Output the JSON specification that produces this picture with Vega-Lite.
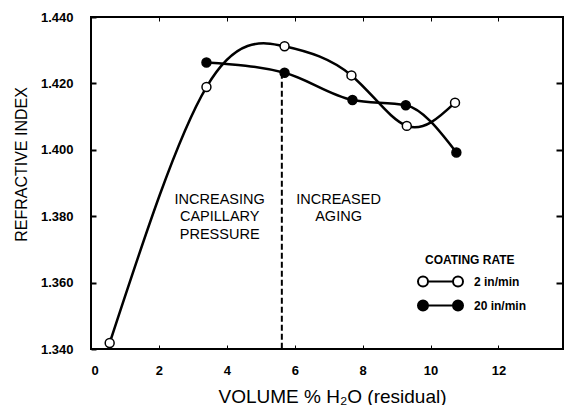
{
  "$schema": "https://vega.github.io/schema/vega-lite/v6.json",
  "width": 472,
  "height": 332,
  "autosize": "none",
  "padding": {"left": 91, "top": 17, "right": 5, "bottom": 56},
  "background": "white",
  "config": {
    "font": "Liberation Sans",
    "view": {"stroke": "black", "strokeWidth": 2},
    "axis": {"grid": false, "domain": false, "tickColor": "black", "labelColor": "black", "titleColor": "black", "labelFont": "Liberation Sans", "titleFont": "Liberation Sans"}
  },
  "datasets": {
    "pts": [
      {"rate": "2 in/min", "x": 0.55, "y": 1.3418},
      {"rate": "2 in/min", "x": 3.4, "y": 1.4189},
      {"rate": "2 in/min", "x": 5.7, "y": 1.4312},
      {"rate": "2 in/min", "x": 7.67, "y": 1.4224},
      {"rate": "2 in/min", "x": 9.3, "y": 1.4072},
      {"rate": "2 in/min", "x": 10.72, "y": 1.4142},
      {"rate": "20 in/min", "x": 3.4, "y": 1.4263},
      {"rate": "20 in/min", "x": 5.7, "y": 1.4232},
      {"rate": "20 in/min", "x": 7.7, "y": 1.415},
      {"rate": "20 in/min", "x": 9.27, "y": 1.4134},
      {"rate": "20 in/min", "x": 10.76, "y": 1.3992}
    ],
    "rule": [{"x": 5.62, "y": 1.4232, "y2": 1.34}],
    "annot": [
      {"x": 3.79, "y": 1.3838, "label": "INCREASING\nCAPILLARY\nPRESSURE"},
      {"x": 7.29, "y": 1.3838, "label": "INCREASED\nAGING"}
    ]
  },
  "layer": [
    {
      "data": {"name": "rule"},
      "mark": {"type": "rule", "color": "black", "strokeWidth": 2, "strokeDash": [6, 3]},
      "encoding": {
        "x": {"field": "x", "type": "quantitative", "scale": {"domain": [0, 13.9], "nice": false, "zero": false},
          "axis": {"orient": "bottom", "values": [0, 2, 4, 6, 8, 10, 12], "tickSize": -4, "tickWidth": 1, "labelPadding": 19, "labelFontSize": 13, "labelFontWeight": "bold",
            "title": "VOLUME % H₂O (residual)", "titleFontSize": 19, "titleFontWeight": "normal", "titleX": 241, "titleY": 53, "titleBaseline": "alphabetic", "titleAnchor": "middle"}},
        "y": {"field": "y", "type": "quantitative", "scale": {"domain": [1.34, 1.44], "nice": false, "zero": false},
          "axis": {"orient": "left", "values": [1.34, 1.36, 1.38, 1.4, 1.42, 1.44], "format": ".3f", "tickSize": -5, "tickWidth": 2, "labelPadding": 23, "labelFontSize": 13, "labelFontWeight": "bold",
            "title": "REFRACTIVE INDEX", "titleFontSize": 16, "titleFontWeight": "normal", "titleX": -70, "titleY": 147, "titleBaseline": "middle", "titleAngle": -90}},
        "y2": {"field": "y2"}
      }
    },
    {
      "data": {"name": "pts"},
      "transform": [{"filter": "datum.rate == '2 in/min'"}],
      "mark": {"type": "line", "interpolate": "natural", "color": "black", "strokeWidth": 2.5},
      "encoding": {
        "x": {"field": "x", "type": "quantitative", "axis": null},
        "y": {"field": "y", "type": "quantitative", "axis": null}
      }
    },
    {
      "data": {"name": "pts"},
      "transform": [{"filter": "datum.rate == '20 in/min'"}],
      "mark": {"type": "line", "interpolate": "monotone", "color": "black", "strokeWidth": 2.5},
      "encoding": {
        "x": {"field": "x", "type": "quantitative", "axis": null},
        "y": {"field": "y", "type": "quantitative", "axis": null}
      }
    },
    {
      "data": {"name": "pts"},
      "mark": {"type": "point", "shape": "circle", "size": 80, "stroke": "black", "strokeWidth": 1.5, "opacity": 1, "fillOpacity": 1},
      "encoding": {
        "x": {"field": "x", "type": "quantitative",
          "axis": {"orient": "top", "values": [2, 4, 6, 8, 10, 12], "tickSize": -4, "tickWidth": 1, "labels": false, "title": null}},
        "y": {"field": "y", "type": "quantitative",
          "axis": {"orient": "right", "values": [1.36, 1.38, 1.4, 1.42], "tickSize": -7, "tickWidth": 2, "labels": false, "title": null}},
        "fill": {"field": "rate", "type": "nominal",
          "scale": {"domain": ["2 in/min", "20 in/min"], "range": ["white", "black"]},
          "legend": {"title": "COATING RATE", "orient": "none", "legendX": 334, "legendY": 238,
            "symbolType": "M-4.5,0A1,1 0 1,0 -2.5,0A1,1 0 1,0 -4.5,0ZM2.5,0A1,1 0 1,0 4.5,0A1,1 0 1,0 2.5,0ZM-2.5,0L2.5,0",
            "symbolSize": 100, "symbolStrokeColor": "black", "symbolStrokeWidth": 2, "symbolOffset": 9.5,
            "labelOffset": 27.5, "labelFontSize": 12, "labelFontWeight": "bold", "labelColor": "black", "labelFont": "Liberation Sans",
            "titleFontSize": 12, "titleFontWeight": "bold", "titleColor": "black", "titleFont": "Liberation Sans", "titlePadding": 8.5, "rowPadding": 6}}
      }
    },
    {
      "data": {"name": "annot"},
      "mark": {"type": "text", "align": "center", "baseline": "alphabetic", "lineBreak": "\n", "lineHeight": 17.5, "fontSize": 14.5, "font": "Liberation Sans", "color": "black"},
      "encoding": {
        "x": {"field": "x", "type": "quantitative", "axis": null},
        "y": {"field": "y", "type": "quantitative", "axis": null},
        "text": {"field": "label"}
      }
    }
  ],
  "resolve": {"axis": {"x": "independent", "y": "independent"}}
}
